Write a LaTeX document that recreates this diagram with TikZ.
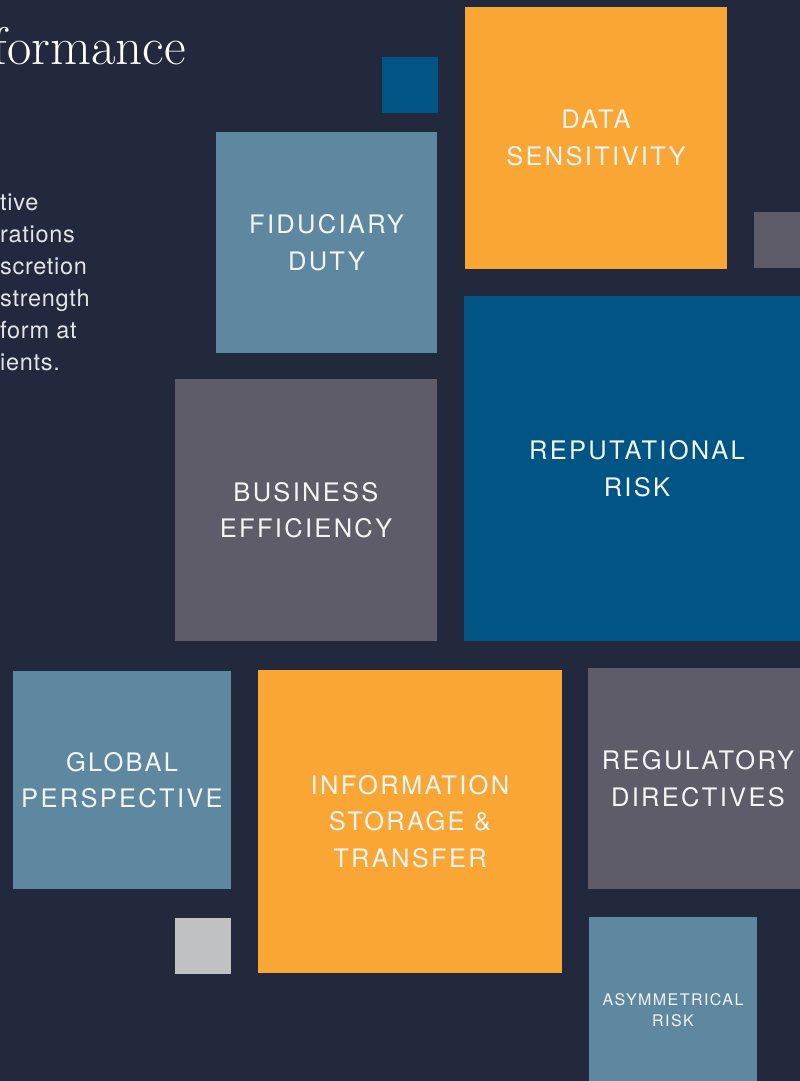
\documentclass[tikz,border=0pt]{standalone}
\usepackage{fontspec}
\newfontfamily\titlefont{Latin Modern Roman}
\newfontfamily\boxfont[LetterSpace=9]{TeX Gyre Heros}
\newfontfamily\parafont[LetterSpace=3]{TeX Gyre Heros}
\definecolor{bg}{HTML}{23293C}
\definecolor{cOrange}{HTML}{F9A635}
\definecolor{cBlue}{HTML}{005585}
\definecolor{cSteel}{HTML}{5E87A0}
\definecolor{cGrey}{HTML}{5E5C68}
\definecolor{cLight}{HTML}{C0C1C3}
\definecolor{cText}{HTML}{F4F4F4}
\definecolor{cPara}{HTML}{E2E4E8}
\tikzset{
  tile/.style={anchor=north west, inner sep=0pt, outer sep=0pt, draw=none,
    text=cText, align=center, font=\boxfont\fontsize{25.5}{36.5}\selectfont},
  smalltile/.style={tile, font=\boxfont\fontsize{16}{20.5}\selectfont},
}
\begin{document}
\begin{tikzpicture}[x=1pt,y=-1pt]
\fill[bg] (0,0) rectangle (800,1081);
\useasboundingbox (0,0) rectangle (800,1081);
\clip (0,0) rectangle (800,1081);

% title and paragraph (cut off at the left edge)
\node[anchor=base east, inner sep=0pt, text=white, font=\titlefont\fontsize{53}{53}\selectfont] (title) at (186,64) {formance};
\node[anchor=north west, inner sep=0pt, text=cPara, align=left,
  font=\parafont\fontsize{23.5}{32}\selectfont] (para) at (0,194)
  {tive\\rations\\scretion\\strength\\form at\\ients.};

% small accent squares
\node[tile, fill=cBlue, minimum width=56, minimum height=56] (sqA) at (382,57) {};
\node[tile, fill=cGrey, minimum width=56, minimum height=56] (sqB) at (754,212) {};
\node[tile, fill=cLight, minimum width=56, minimum height=56] (sqC) at (175,918) {};

% main tiles
\node[tile, fill=cOrange, minimum width=262, minimum height=262] (data) at (465,7) {DATA\\SENSITIVITY};
\node[tile, fill=cSteel, minimum width=221, minimum height=221] (fid) at (216,132) {FIDUCIARY\\DUTY};
\node[tile, fill=cBlue, minimum width=346, minimum height=345] (rep) at (464,296) {REPUTATIONAL\\RISK};
\node[tile, fill=cGrey, minimum width=262, minimum height=262] (bus) at (175,379) {BUSINESS\\EFFICIENCY};
\node[tile, fill=cSteel, minimum width=218, minimum height=218] (glob) at (13,671) {GLOBAL\\PERSPECTIVE};
\node[tile, fill=cOrange, minimum width=304, minimum height=303] (info) at (258,670) {INFORMATION\\STORAGE \&\\TRANSFER};
\node[tile, fill=cGrey, minimum width=220, minimum height=221] (reg) at (588,668) {REGULATORY\\DIRECTIVES};
\node[smalltile, fill=cSteel, minimum width=168, minimum height=186] (asym) at (589,917) {ASYMMETRICAL\\RISK};
\end{tikzpicture}
\end{document}
